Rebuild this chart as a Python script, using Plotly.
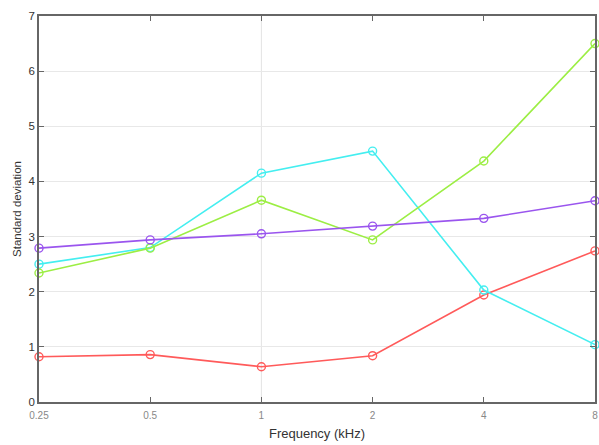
import plotly.graph_objects as go

freqs = [0.25, 0.5, 1, 2, 4, 8]
tick_labels = ["0.25", "0.5", "1", "2", "4", "8"]
red_vals = [0.82, 0.86, 0.64, 0.84, 1.94, 2.74]
cyan_vals = [2.50, 2.80, 4.15, 4.55, 2.03, 1.04]
green_vals = [2.34, 2.79, 3.66, 2.94, 4.37, 6.50]
purple_vals = [2.79, 2.94, 3.05, 3.19, 3.33, 3.65]

series = [
    (red_vals, "#ff5a5a"),
    (cyan_vals, "#44eef0"),
    (green_vals, "#9cee44"),
    (purple_vals, "#9a55ee"),
]

fig = go.Figure()
for vals, col in series:
    fig.add_trace(go.Scatter(
        x=freqs, y=vals, mode="lines+markers",
        line=dict(color=col, width=1.6),
        marker=dict(symbol="circle-open", size=8, color=col, line=dict(width=1.4, color=col)),
        showlegend=False, cliponaxis=False,
    ))

fig.add_vline(x=1, line=dict(color="#e4e4e4", width=1), layer="below")

axis_common = dict(
    showline=True, linecolor="#666666", linewidth=1.5, mirror="ticks",
    ticks="inside", ticklen=5, tickcolor="#666666", zeroline=False,
)
fig.update_layout(
    width=599, height=445,
    margin=dict(l=39, r=1, t=16, b=43),
    paper_bgcolor="white", plot_bgcolor="white",
    font=dict(family="Liberation Sans, Arial, sans-serif", color="#333333"),
    xaxis=dict(
        type="log", range=[-0.60206, 0.90309],
        tickvals=freqs, ticktext=tick_labels,
        tickfont=dict(size=10, color="#888888"),
        ticklabeloverflow="allow", ticklabelstandoff=3,
        showgrid=False,
        title=dict(text="Frequency (kHz)", font=dict(size=13, color="#333333"), standoff=9),
        **axis_common,
    ),
    yaxis=dict(
        range=[0, 7], dtick=1,
        tickfont=dict(size=11.5, color="#333333"),
        showgrid=True, gridcolor="#e8e8e8", gridwidth=1,
        title=dict(text="Standard deviation", font=dict(size=11.5, color="#333333"), standoff=5),
        **axis_common,
    ),
)
fig.write_html("out.html")
